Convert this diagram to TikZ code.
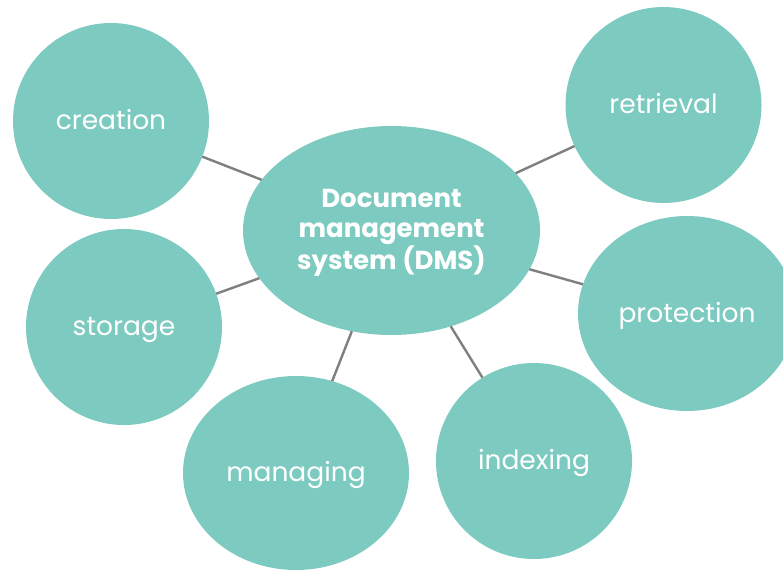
\documentclass[tikz,border=0pt]{standalone}
\usepackage{fontspec}
\setmainfont{Poppins}
\usetikzlibrary{shapes.geometric}
\definecolor{bubblefill}{HTML}{7DCBC0}
\definecolor{linkgray}{HTML}{7F7F7F}
\begin{document}
\begin{tikzpicture}[x=1pt,y=-1pt,
  bubble/.style={circle, fill=bubblefill, inner sep=0pt, outer sep=0pt, minimum size=196pt,
    text=white, text height=24pt, text depth=7pt, font=\fontsize{26.5}{30}\selectfont},
  oval/.style={ellipse, fill=bubblefill, inner sep=0pt, outer sep=0pt,
    text=white, text height=24pt, text depth=7pt, font=\fontsize{26.5}{30}\selectfont},
  hub/.style={ellipse, fill=bubblefill, inner sep=0pt, outer sep=0pt,
    minimum width=297pt, minimum height=209pt},
  hubtext/.style={inner sep=0pt, text=white, align=center,
    font=\fontsize{26}{29.5}\selectfont\bfseries},
  link/.style={draw=linkgray, line width=2.4pt}]
\useasboundingbox (0,0) rectangle (783,571);
\node[hub] (dms) at (391.5,230.5) {};
\node[hubtext] (dmslabel) at (391.5,233) {Document\\management\\system (DMS)};
\node[bubble] (creation) at (111,121) {creation};
\node[bubble] (retrieval) at (663.5,105) {retrieval};
\node[bubble] (storage) at (124,327) {storage};
\node[bubble] (indexing) at (534,461) {indexing};
\node[oval, minimum width=218pt, minimum height=195pt] (protection) at (687,313.5) {protection};
\node[oval, minimum width=226pt, minimum height=194pt] (managing) at (296,473) {managing};
\draw[link] (dms) -- (creation);
\draw[link] (dms) -- (retrieval);
\draw[link] (dms) -- (storage);
\draw[link] (dms) -- (protection);
\draw[link] (dms) -- (managing);
\draw[link] (dms) -- (indexing);
\end{tikzpicture}
\end{document}
